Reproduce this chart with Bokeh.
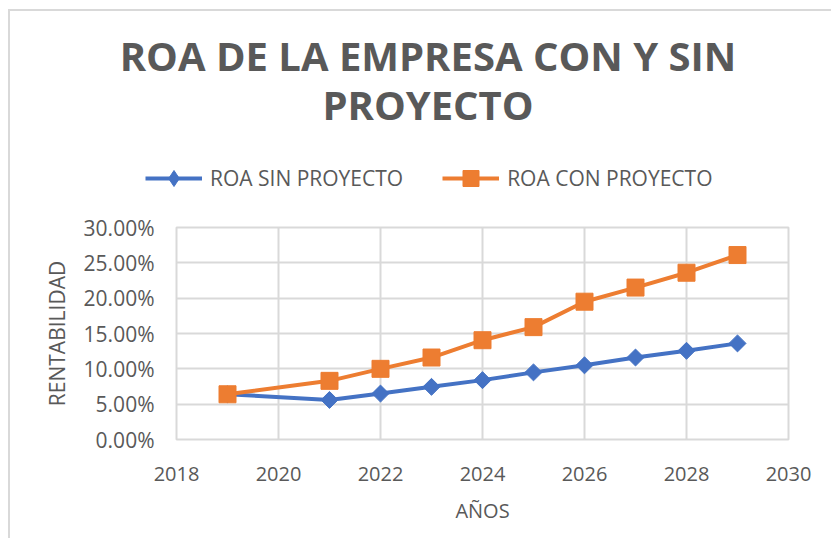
import math
from bokeh.plotting import figure
from bokeh.models import (Range1d, FixedTicker, NumeralTickFormatter, Legend, LegendItem)
from bokeh.core.properties import value
from bokeh.embed import file_html
from bokeh.resources import INLINE

# ---- data ----
years = [2019, 2021, 2022, 2023, 2024, 2025, 2026, 2027, 2028, 2029]
roa_sin = [0.064, 0.056, 0.065, 0.0745, 0.084, 0.095, 0.105, 0.116, 0.1255, 0.136]
roa_con = [0.064, 0.083, 0.100, 0.116, 0.1405, 0.159, 0.195, 0.215, 0.236, 0.261]
x_ticks = [2018, 2020, 2022, 2024, 2026, 2028, 2030]
y_ticks = [0.0, 0.05, 0.10, 0.15, 0.20, 0.25, 0.30]
title_lines = ["ROA DE LA EMPRESA CON Y SIN", "PROYECTO"]
series_names = ["ROA SIN PROYECTO", "ROA CON PROYECTO"]

BLUE = "#4472C4"
ORANGE = "#ED7D31"
GRID = "#D9D9D9"
TEXT = "#595959"
FONT = "Open Sans"
W = 823
TOP_H = 198
MAIN_H = 331
EDGE = "2px solid #D9D9D9"

# ---------- header figure: title + legend ----------
top = figure(width=W, height=TOP_H, output_backend="svg", toolbar_location=None,
             x_range=Range1d(0, W), y_range=Range1d(0, TOP_H),
             x_axis_type=None, y_axis_type=None, min_border=0)
top.styles = {"margin-left": "8px", "margin-top": "9px", "border-left": EDGE, "border-top": EDGE}
top.title.visible = False
top.outline_line_color = None
top.grid.visible = False
top.background_fill_color = "white"
top.border_fill_color = "white"

top.text(x=[417.5, 417.5], y=[154, 105], text=title_lines,
         text_align="center", text_baseline="middle",
         text_font=value(FONT), text_font_style="bold", text_font_size="40px",
         text_color=TEXT)

# legend-only renderers (their data lies outside this header's ranges, so only the legend shows them)
d1 = top.line(years, roa_sin, line_color=BLUE, line_width=4)
d1m = top.scatter(years, roa_sin, marker="diamond", fill_color=BLUE, line_color=BLUE)
d2 = top.line(years, roa_con, line_color=ORANGE, line_width=4)
d2m = top.scatter(years, roa_con, marker="square", fill_color=ORANGE, line_color=ORANGE)
legend = Legend(items=[LegendItem(label=series_names[0], renderers=[d1, d1m]),
                       LegendItem(label=series_names[1], renderers=[d2, d2m])],
                orientation="horizontal", location=(135, 11),
                label_text_font=FONT, label_text_font_size="21px", label_text_color=TEXT,
                glyph_width=57, glyph_height=40, label_standoff=8, spacing=39,
                padding=0, margin=0, border_line_color=None, background_fill_alpha=0)
top.add_layout(legend, "center")

# ---------- main chart ----------
p = figure(width=W, height=MAIN_H, output_backend="svg", toolbar_location=None,
           x_range=Range1d(2018, 2030), y_range=Range1d(0, 0.30),
           min_border_left=166, min_border_right=45, min_border_top=20, min_border_bottom=99)
p.styles = {"margin-left": "8px", "border-left": EDGE}
p.title.visible = False
p.outline_line_color = GRID
p.outline_line_width = 2
p.background_fill_color = "white"
p.border_fill_color = "white"

for g in (p.xgrid, p.ygrid):
    g.grid_line_color = GRID
    g.grid_line_width = 2
p.xgrid.ticker = FixedTicker(ticks=x_ticks)
p.ygrid.ticker = FixedTicker(ticks=y_ticks)

p.xaxis.ticker = FixedTicker(ticks=x_ticks)
p.yaxis.ticker = FixedTicker(ticks=y_ticks)
p.yaxis.formatter = NumeralTickFormatter(format="0.00%")
for ax in (p.xaxis[0], p.yaxis[0]):
    ax.axis_line_color = None
    ax.major_tick_line_color = None
    ax.minor_tick_line_color = None
    ax.major_label_text_font = FONT
    ax.major_label_text_color = TEXT
    ax.axis_label_text_font = FONT
    ax.axis_label_text_color = TEXT
    ax.axis_label_text_font_style = "normal"
p.xaxis.major_label_text_font_size = "20px"
p.yaxis.major_label_text_font_size = "21px"
p.xaxis.axis_label_text_font_size = "20px"
p.yaxis.axis_label_text_font_size = "21px"
p.xaxis.axis_label = "AÑOS"
p.yaxis.axis_label = "RENTABILIDAD"
p.xaxis.major_label_standoff = 21
p.xaxis.axis_label_standoff = 13
p.yaxis.major_label_standoff = 16
p.yaxis.axis_label_standoff = 10

p.line(years, roa_sin, line_color=BLUE, line_width=4)
p.scatter(years, roa_sin, marker="square", size=12, angle=math.pi / 4,
          fill_color=BLUE, line_color=BLUE)
p.line(years, roa_con, line_color=ORANGE, line_width=4)
p.scatter(years, roa_con, marker="square", size=17, fill_color=ORANGE, line_color=ORANGE)

open("out.html", "w").write(file_html([top, p], INLINE))
